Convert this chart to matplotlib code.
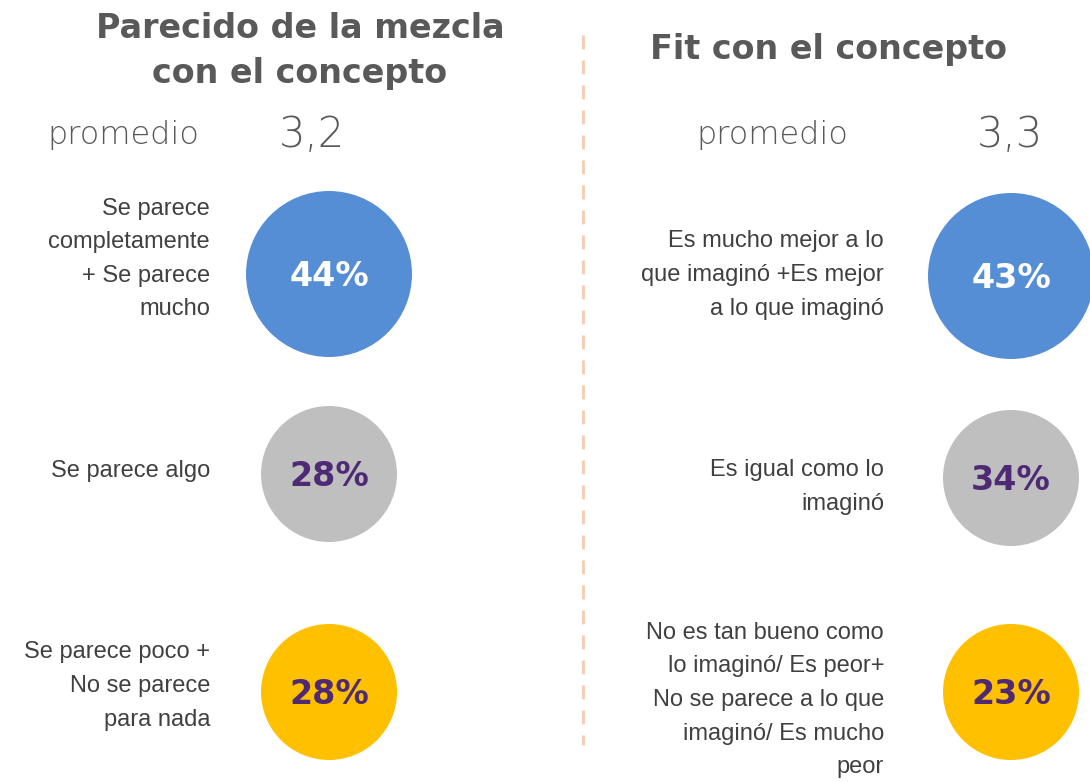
import matplotlib.pyplot as plt
from matplotlib.patches import Circle

# data
titles = ["Parecido de la mezcla\ncon el concepto", "Fit con el concepto"]
averages = [3.2, 3.3]
labels_left = [
    "Se parece\ncompletamente\n+ Se parece\nmucho",
    "Se parece algo",
    "Se parece poco +\nNo se parece\npara nada",
]
values_left = [44, 28, 28]
labels_right = [
    "Es mucho mejor a lo\nque imaginó +Es mejor\na lo que imaginó",
    "Es igual como lo\nimaginó",
    "No es tan bueno como\nlo imaginó/ Es peor+\nNo se parece a lo que\nimaginó/ Es mucho\npeor",
]
values_right = [43, 34, 23]

# style
colors = ["#558ED5", "#BFBFBF", "#FFC000"]
pct_colors = ["white", "#4E2A74", "#4E2A74"]
radii = [83, 68, 68]
gray = "#595959"
label_color = "#404040"

fig = plt.figure(figsize=(10.9, 7.82), dpi=100)
ax = fig.add_axes([0, 0, 1, 1])
ax.set_xlim(0, 1090)
ax.set_ylim(782, 0)
ax.set_aspect("equal")
ax.axis("off")

panels = [
    dict(title_x=300, title_y=51, prom_x=123, avg_x=312, label_x=210,
         circle_x=329, rows=[274, 474, 692], label_rows=[259, 471, 686],
         labels=labels_left, values=values_left, title=titles[0], avg=averages[0]),
    dict(title_x=828, title_y=50, prom_x=772, avg_x=1010, label_x=884,
         circle_x=1011, rows=[276, 478, 692], label_rows=[275, 487, 700],
         labels=labels_right, values=values_right, title=titles[1], avg=averages[1]),
]

for p in panels:
    ax.text(p["title_x"], p["title_y"], p["title"], ha="center", va="center",
            fontsize=24, fontweight="bold", color=gray, family="DejaVu Sans",
            linespacing=1.45)
    ax.text(p["prom_x"], 135, "promedio", ha="center", va="center",
            fontsize=23, color=gray, family="DejaVu Sans", fontweight="light")
    ax.text(p["avg_x"], 135, f"{p['avg']:.1f}".replace(".", ","), ha="center",
            va="center", fontsize=30, color=gray, family="DejaVu Sans",
            fontweight="light")
    for i, (lab, val) in enumerate(zip(p["labels"], p["values"])):
        cy = p["rows"][i]
        ax.add_patch(Circle((p["circle_x"], cy), radii[i], color=colors[i], lw=0))
        ax.text(p["circle_x"], cy + 2, f"{val}%", ha="center", va="center",
                fontsize=24, fontweight="bold", color=pct_colors[i],
                family="DejaVu Sans")
        ax.text(p["label_x"], p["label_rows"][i], lab, ha="right", va="center",
                fontsize=17, color=label_color, family="Liberation Sans",
                linespacing=1.68)

ax.plot([583, 583], [35, 745], color="#F8CBAD", lw=2, ls=(0, (5, 4)))

fig.savefig("out.png", dpi=100, facecolor="white")
